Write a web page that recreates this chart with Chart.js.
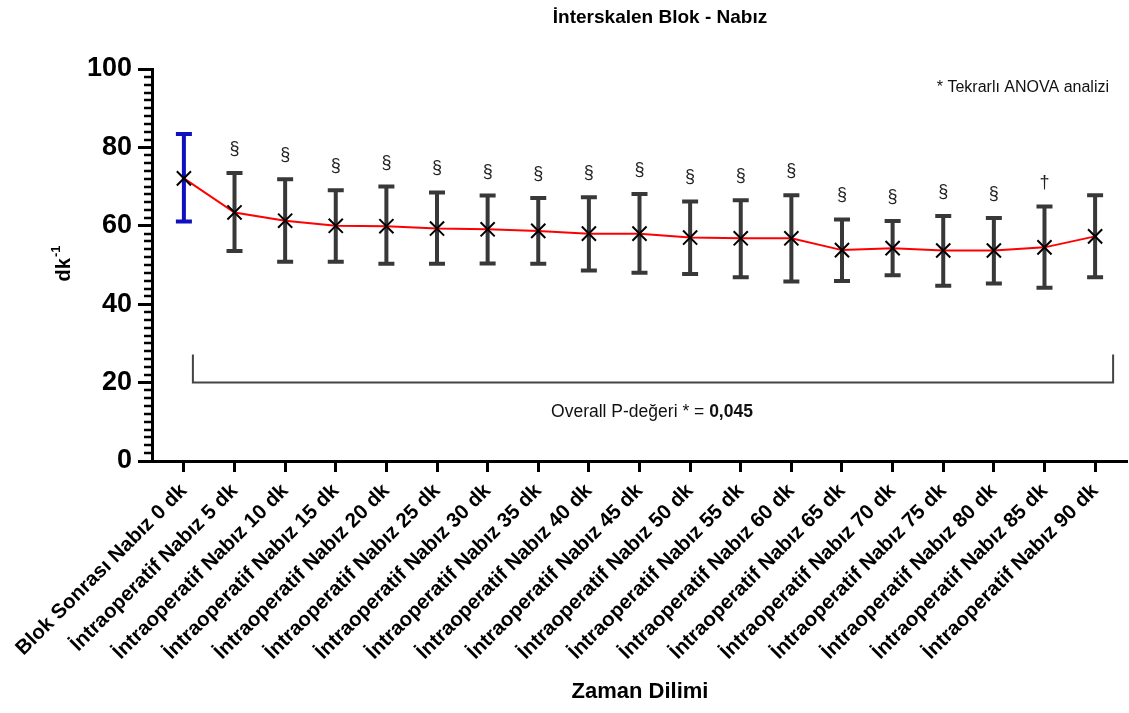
<!DOCTYPE html>
<html>
<head>
<meta charset="utf-8">
<script src="https://cdn.jsdelivr.net/npm/chart.js@4"></script>
<style>
  html, body { margin: 0; padding: 0; background: #fff; }
  #wrap { width: 1129px; height: 713px; }
</style>
</head>
<body>
<div id="wrap"><canvas id="nabizChart" width="1129" height="713"></canvas></div>
<script>
// veriler
const categories = [
    'Blok Sonrası Nabız 0 dk',
    'İntraoperatif Nabız 5 dk',
    'İntraoperatif Nabız 10 dk',
    'İntraoperatif Nabız 15 dk',
    'İntraoperatif Nabız 20 dk',
    'İntraoperatif Nabız 25 dk',
    'İntraoperatif Nabız 30 dk',
    'İntraoperatif Nabız 35 dk',
    'İntraoperatif Nabız 40 dk',
    'İntraoperatif Nabız 45 dk',
    'İntraoperatif Nabız 50 dk',
    'İntraoperatif Nabız 55 dk',
    'İntraoperatif Nabız 60 dk',
    'İntraoperatif Nabız 65 dk',
    'İntraoperatif Nabız 70 dk',
    'İntraoperatif Nabız 75 dk',
    'İntraoperatif Nabız 80 dk',
    'İntraoperatif Nabız 85 dk',
    'İntraoperatif Nabız 90 dk'
];
const means = [72.1, 63.4, 61.3, 60.0, 59.9, 59.3, 59.1, 58.7, 58.0, 58.0, 57.0, 56.8, 56.8, 53.8, 54.3, 53.7, 53.7, 54.5, 57.3];
const upper = [83.4, 73.5, 71.9, 69.1, 70.0, 68.5, 67.7, 67.1, 67.3, 68.1, 66.2, 66.5, 67.8, 61.6, 61.2, 62.5, 62.0, 64.9, 67.8];
const lower = [61.1, 53.6, 50.8, 50.8, 50.3, 50.3, 50.4, 50.3, 48.6, 48.0, 47.7, 46.9, 45.8, 45.9, 47.4, 44.7, 45.3, 44.2, 46.9];
const sigMarks = ['', '§', '§', '§', '§', '§', '§', '§', '§', '§', '§', '§', '§', '§', '§', '§', '§', '†', ''];
const yTicks = [0, 20, 40, 60, 80, 100];
const bracketValue = 20;

const FONT = '"Liberation Sans", Arial, sans-serif';

// hata cubuklari (ortalama ± SS)
const errorBars = {
    id: 'errorBars',
    beforeDatasetsDraw(chart) {
        const { ctx, scales: { x, y } } = chart;
        ctx.save();
        ctx.lineWidth = 4;
        means.forEach((m, i) => {
            const px = x.getPixelForValue(i);
            const top = y.getPixelForValue(upper[i]);
            const bot = y.getPixelForValue(lower[i]);
            ctx.strokeStyle = i === 0 ? '#1010c0' : '#383838';
            ctx.beginPath();
            ctx.moveTo(px, top); ctx.lineTo(px, bot);
            ctx.moveTo(px - 8, top); ctx.lineTo(px + 8, top);
            ctx.moveTo(px - 8, bot); ctx.lineTo(px + 8, bot);
            ctx.stroke();
        });
        ctx.restore();
    }
};

// yazilar, isaretler, kisa y tikleri, alt parantez
const extras = {
    id: 'extras',
    afterDraw(chart) {
        const { ctx, scales: { x, y }, chartArea } = chart;
        ctx.save();

        // kisa tikler (her 2 birimde)
        ctx.strokeStyle = '#000';
        ctx.lineWidth = 2.5;
        for (let v = 0; v <= 100; v += 2) {
            if (v % 20 === 0) continue;
            const py = Math.round(y.getPixelForValue(v));
            ctx.beginPath();
            ctx.moveTo(chartArea.left - 8, py);
            ctx.lineTo(chartArea.left, py);
            ctx.stroke();
        }

        // anlamlilik isaretleri
        ctx.fillStyle = '#222';
        ctx.font = '18px ' + FONT;
        ctx.textAlign = 'center';
        ctx.textBaseline = 'middle';
        sigMarks.forEach((s, i) => {
            if (!s) return;
            ctx.fillText(s, x.getPixelForValue(i), y.getPixelForValue(upper[i]) - 24);
        });

        // parantez
        const by = y.getPixelForValue(bracketValue);
        const bx1 = x.getPixelForValue(0) + 9;
        const bx2 = x.getPixelForValue(categories.length - 1) + 18;
        const btop = by - 28;
        ctx.strokeStyle = '#444';
        ctx.lineWidth = 2;
        ctx.beginPath();
        ctx.moveTo(bx1, btop); ctx.lineTo(bx1, by); ctx.lineTo(bx2, by); ctx.lineTo(bx2, btop);
        ctx.stroke();

        // P degeri
        ctx.fillStyle = '#111';
        ctx.textAlign = 'left';
        const t1 = 'Overall P-değeri * = ';
        ctx.font = 'bold 17.5px ' + FONT;
        const w2 = ctx.measureText('0,045').width;
        ctx.font = '17.5px ' + FONT;
        const w1 = ctx.measureText(t1).width;
        const sx = 652 - (w1 + w2) / 2;
        ctx.fillText(t1, sx, by + 30);
        ctx.font = 'bold 17.5px ' + FONT;
        ctx.fillText('0,045', sx + w1, by + 30);

        // ANOVA notu
        ctx.font = '16px ' + FONT;
        ctx.textAlign = 'right';
        ctx.fillText('* Tekrarlı ANOVA analizi', 1109, 88);

        // baslik
        ctx.fillStyle = '#000';
        ctx.textAlign = 'center';
        ctx.font = 'bold 19px ' + FONT;
        ctx.fillText('İnterskalen Blok - Nabız', 660, 18);

        // x ekseni basligi
        ctx.font = 'bold 22px ' + FONT;
        ctx.fillText('Zaman Dilimi', 640, 692);

        // y ekseni basligi (dk^-1)
        ctx.translate(64, 264);
        ctx.rotate(-Math.PI / 2);
        ctx.font = 'bold 20px ' + FONT;
        const wdk = ctx.measureText('dk').width;
        ctx.font = 'bold 13px ' + FONT;
        const wsup = ctx.measureText('-1').width;
        const start = -(wdk + wsup) / 2;
        ctx.textAlign = 'left';
        ctx.font = 'bold 20px ' + FONT;
        ctx.fillText('dk', start, 0);
        ctx.font = 'bold 13px ' + FONT;
        ctx.fillText('-1', start + wdk + 1, -8);

        ctx.restore();
    }
};

const ctx = document.getElementById('nabizChart').getContext('2d');
const chart = new Chart(ctx, {
    type: 'line',
    data: {
        datasets: [{
            label: 'Nabız',
            data: means.map((m, i) => ({ x: i, y: m })),
            borderColor: '#ff0000',
            borderWidth: 2,
            pointStyle: 'crossRot',
            pointRadius: 10,
            pointBorderWidth: 2,
            pointBorderColor: '#000',
            pointBackgroundColor: '#000',
            tension: 0,
            clip: false
        }]
    },
    options: {
        responsive: false,
        animation: false,
        events: [],
        layout: { autoPadding: false, padding: { top: 69, right: 2, left: 0, bottom: 0 } },
        plugins: {
            legend: { display: false },
            title: { display: false },
            tooltip: { enabled: false }
        },
        scales: {
            x: {
                type: 'linear',
                min: -0.63,
                max: 18.63,
                afterBuildTicks: (scale) => {
                    scale.ticks = categories.map((c, i) => ({ value: i }));
                },
                afterFit: (scale) => {
                    scale.height = 252;
                    scale.paddingLeft = 0;
                    scale.paddingRight = 0;
                },
                ticks: {
                    autoSkip: false,
                    minRotation: 45,
                    maxRotation: 45,
                    padding: 7,
                    color: '#000',
                    font: { family: FONT, size: 20.5, weight: 'bold' },
                    callback: (v) => categories[v]
                },
                grid: {
                    drawOnChartArea: false,
                    drawTicks: true,
                    tickLength: 11,
                    tickWidth: 3,
                    color: '#000'
                },
                border: { display: true, width: 3, color: '#000' }
            },
            y: {
                min: 0,
                max: 100,
                afterBuildTicks: (scale) => {
                    scale.ticks = yTicks.map(v => ({ value: v }));
                },
                afterFit: (scale) => { scale.width = 152; },
                ticks: {
                    padding: 6,
                    color: '#000',
                    font: { family: FONT, size: 27, weight: 'bold' }
                },
                grid: {
                    drawOnChartArea: false,
                    drawTicks: true,
                    tickLength: 14,
                    tickWidth: 3,
                    color: '#000'
                },
                border: { display: true, width: 3, color: '#000' }
            }
        }
    },
    plugins: [errorBars, extras]
});
</script>
</body>
</html>
